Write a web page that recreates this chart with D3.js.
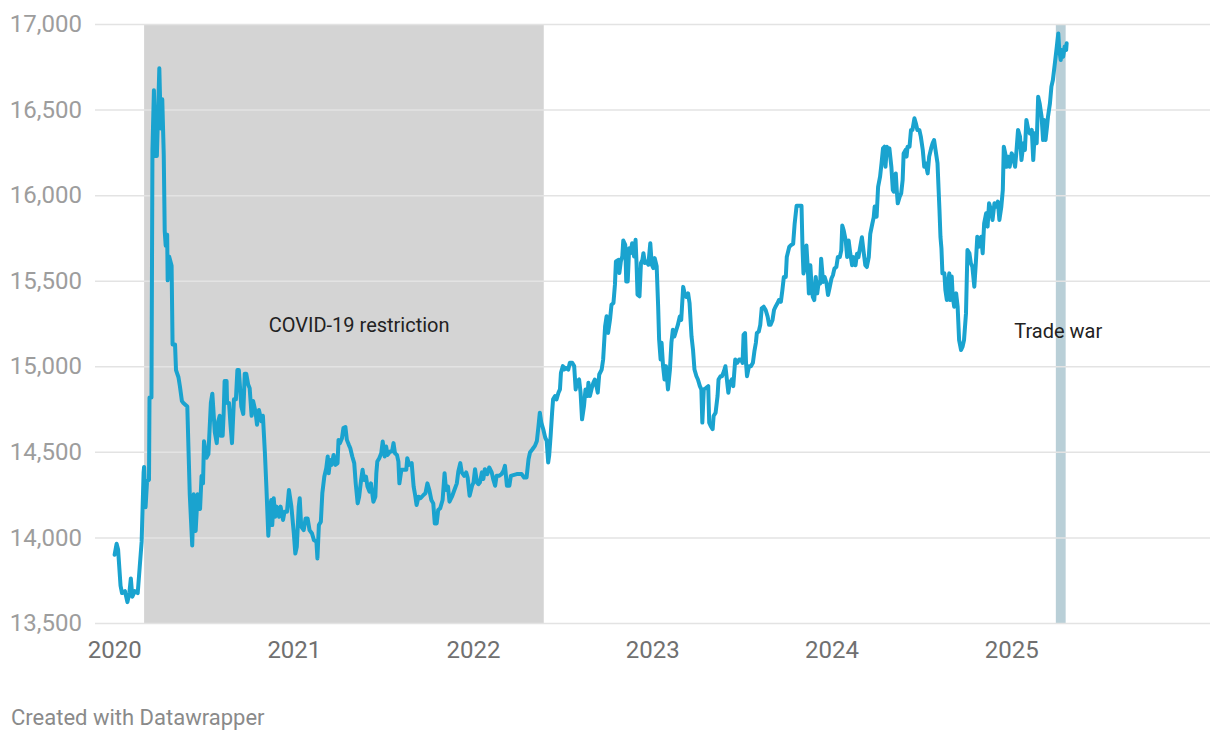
<!DOCTYPE html>
<html>
<head>
<meta charset="utf-8">
<script src="https://cdn.jsdelivr.net/npm/d3@7"></script>
<style>
  body { margin: 0; background: #fff; }
  svg { font-family: Roboto, "Noto Sans", sans-serif; }
</style>
</head>
<body>
<svg id="chart" width="1220" height="740"></svg>
<script>
// USD/IDR rate
const rates2020 = [
  ["2020-01-02",13899],["2020-01-06",13963],["2020-01-09",13930],["2020-01-14",13718],["2020-01-17",13675],["2020-01-23",13686],
  ["2020-01-28",13622],["2020-02-01",13675],["2020-02-04",13760],["2020-02-07",13654],["2020-02-12",13686],["2020-02-18",13675],
  ["2020-02-22",13825],["2020-02-26",13974],["2020-03-01",14380],["2020-03-02",14412],["2020-03-05",14177],["2020-03-08",14327],
  ["2020-03-12",14337],["2020-03-13",14818],["2020-03-17",14818],["2020-03-19",16261],["2020-03-22",16613],["2020-03-25",16229],
  ["2020-03-28",16229],["2020-04-02",16741],["2020-04-05",16389],["2020-04-08",16560],["2020-04-11",16239],["2020-04-13",15790],
  ["2020-04-15",15705],["2020-04-18",15769],["2020-04-19",15502],["2020-04-22",15641],["2020-04-27",15588],["2020-04-29",15128],
  ["2020-05-04",15128],["2020-05-06",14978],["2020-05-11",14936],["2020-05-14",14882],["2020-05-18",14797],["2020-05-21",14786],
  ["2020-05-29",14765],["2020-06-03",14252],["2020-06-08",13953],["2020-06-11",14252],["2020-06-15",14038],["2020-06-19",14252],
  ["2020-06-24",14166],["2020-06-27",14359],["2020-06-30",14316],["2020-07-02",14562],["2020-07-07",14466],["2020-07-11",14487],
  ["2020-07-16",14786],["2020-07-19",14840],["2020-07-24",14615],["2020-07-28",14551],["2020-07-31",14679],["2020-08-03",14711],
  ["2020-08-05",14594],["2020-08-09",14594],["2020-08-11",14722],["2020-08-13",14914],["2020-08-17",14914],["2020-08-18",14786],
  ["2020-08-22",14786],["2020-08-25",14658],["2020-08-28",14551],["2020-09-01",14807],["2020-09-05",14807],["2020-09-08",14978],
  ["2020-09-11",14978],["2020-09-16",14765],["2020-09-20",14722],["2020-09-23",14957],["2020-09-26",14957],["2020-09-30",14893],
  ["2020-10-03",14872],["2020-10-07",14711],["2020-10-10",14797],["2020-10-15",14733],["2020-10-18",14658],["2020-10-22",14744],
  ["2020-10-27",14679],["2020-10-30",14711],["2020-11-03",14497],["2020-11-06",14300],["2020-11-10",14010],["2020-11-13",14160],
  ["2020-11-16",14219],["2020-11-18",14072],["2020-11-21",14229],["2020-11-24",14121],["2020-11-27",14180],["2020-12-02",14121],
  ["2020-12-05",14180],["2020-12-10",14102],["2020-12-13",14150],["2020-12-18",14150],["2020-12-22",14277],["2020-12-27",14180]
]
const rates2021 = [
  ["2021-01-01",14023],["2021-01-04",13906],["2021-01-07",13945],["2021-01-11",14180],["2021-01-13",14229],["2021-01-16",14063],
  ["2021-01-21",14043],["2021-01-25",14111],["2021-01-29",14111],["2021-02-02",14043],["2021-02-07",14023],["2021-02-11",13984],
  ["2021-02-16",13975],["2021-02-18",13877],["2021-02-21",14072],["2021-02-25",14092],["2021-02-28",14258],["2021-03-04",14355],
  ["2021-03-08",14404],["2021-03-11",14473],["2021-03-13",14375],["2021-03-16",14453],["2021-03-19",14424],["2021-03-23",14482],
  ["2021-03-27",14424],["2021-03-31",14434],["2021-04-02",14570],["2021-04-05",14551],["2021-04-09",14580],["2021-04-12",14639],
  ["2021-04-16",14645],["2021-04-19",14570],["2021-04-23",14541],["2021-04-26",14521],["2021-04-30",14473],["2021-05-04",14434],
  ["2021-05-07",14316],["2021-05-11",14199],["2021-05-14",14238],["2021-05-18",14336],["2021-05-21",14395],["2021-05-24",14336],
  ["2021-05-28",14355],["2021-05-31",14297],["2021-06-04",14268],["2021-06-07",14316],["2021-06-12",14209],["2021-06-16",14238],
  ["2021-06-18",14375],["2021-06-20",14443],["2021-06-24",14463],["2021-06-28",14492],["2021-07-01",14561],["2021-07-05",14473],
  ["2021-07-08",14531],["2021-07-11",14482],["2021-07-16",14502],["2021-07-20",14502],["2021-07-23",14551],["2021-07-26",14492],
  ["2021-07-30",14482],["2021-08-02",14443],["2021-08-04",14316],["2021-08-08",14395],["2021-08-12",14395],["2021-08-18",14395],
  ["2021-08-20",14463],["2021-08-24",14424],["2021-08-29",14434],["2021-09-02",14297],["2021-09-05",14248],["2021-09-08",14189],
  ["2021-09-12",14238],["2021-09-16",14229],["2021-09-22",14248],["2021-09-26",14258],["2021-09-30",14316],["2021-10-04",14277],
  ["2021-10-08",14219],["2021-10-12",14199],["2021-10-15",14082],["2021-10-19",14082],["2021-10-22",14160],["2021-10-26",14170],
  ["2021-10-31",14219],["2021-11-04",14375],["2021-11-07",14277],["2021-11-11",14297],["2021-11-14",14209],["2021-11-19",14238],
  ["2021-11-24",14277],["2021-11-29",14316],["2021-12-02",14385],["2021-12-06",14434],["2021-12-09",14380],["2021-12-14",14360],
  ["2021-12-18",14380],["2021-12-21",14350],["2021-12-25",14243],["2021-12-30",14302]
]
const rates2022 = [
  ["2022-01-02",14321],["2022-01-05",14399],["2022-01-09",14321],["2022-01-12",14311],["2022-01-15",14321],["2022-01-19",14380],
  ["2022-01-22",14341],["2022-01-25",14399],["2022-01-30",14370],["2022-02-03",14409],["2022-02-08",14380],["2022-02-11",14341],
  ["2022-02-15",14302],["2022-02-18",14360],["2022-02-23",14360],["2022-02-28",14370],["2022-03-04",14389],["2022-03-07",14418],
  ["2022-03-11",14302],["2022-03-16",14302],["2022-03-19",14360],["2022-03-24",14364],["2022-03-31",14370],["2022-04-05",14370],
  ["2022-04-10",14370],["2022-04-15",14350],["2022-04-20",14350],["2022-04-24",14457],["2022-04-27",14496],["2022-05-02",14515],
  ["2022-05-07",14535],["2022-05-11",14564],["2022-05-14",14642],["2022-05-17",14729],["2022-05-20",14671],["2022-05-24",14632],
  ["2022-05-28",14583],["2022-05-31",14564],["2022-06-03",14438],["2022-06-05",14477],["2022-06-08",14593],["2022-06-11",14729],
  ["2022-06-13",14807],["2022-06-17",14826],["2022-06-20",14807],["2022-06-24",14846],["2022-06-27",14865],["2022-06-29",14962],
  ["2022-07-03",15001],["2022-07-06",14981],["2022-07-09",14991],["2022-07-14",14981],["2022-07-17",15020],["2022-07-22",15020],
  ["2022-07-26",15001],["2022-07-29",14865],["2022-08-01",14913],["2022-08-05",14923],["2022-08-08",14846],["2022-08-11",14690],
  ["2022-08-15",14768],["2022-08-18",14865],["2022-08-22",14826],["2022-08-24",14904],["2022-08-27",14826],["2022-08-31",14875],
  ["2022-09-03",14904],["2022-09-06",14923],["2022-09-10",14875],["2022-09-12",14846],["2022-09-15",14952],["2022-09-20",14981],
  ["2022-09-23",15040],["2022-09-27",15234],["2022-09-30",15292],["2022-10-03",15195],["2022-10-07",15273],["2022-10-10",15360],
  ["2022-10-14",15370],["2022-10-17",15477],["2022-10-19",15613],["2022-10-24",15622],["2022-10-26",15545],["2022-10-29",15613],
  ["2022-11-01",15642],["2022-11-03",15735],["2022-11-07",15710],["2022-11-09",15496],["2022-11-12",15496],["2022-11-15",15690],
  ["2022-11-18",15661],["2022-11-21",15719],["2022-11-25",15642],["2022-11-28",15739],["2022-11-30",15603],["2022-12-02",15418],
  ["2022-12-06",15409],["2022-12-09",15603],["2022-12-12",15622],["2022-12-14",15661],["2022-12-17",15603],["2022-12-21",15613],
  ["2022-12-24",15593],["2022-12-28",15719],["2022-12-31",15593]
]
const rates2023 = [
  ["2023-01-03",15574],["2023-01-06",15632],["2023-01-10",15584],["2023-01-13",15350],["2023-01-15",15156],["2023-01-18",15040],
  ["2023-01-20",15137],["2023-01-23",15001],["2023-01-26",14923],["2023-01-29",15001],["2023-02-02",14865],["2023-02-06",14980],
  ["2023-02-09",15137],["2023-02-12",15213],["2023-02-15",15174],["2023-02-19",15213],["2023-02-22",15240],["2023-02-26",15290],
  ["2023-03-01",15271],["2023-03-05",15464],["2023-03-08",15426],["2023-03-11",15406],["2023-03-15",15426],["2023-03-18",15368],
  ["2023-03-22",15174],["2023-03-25",15097],["2023-03-28",14981],["2023-04-01",14942],["2023-04-04",14923],["2023-04-08",14884],
  ["2023-04-11",14865],["2023-04-13",14671],["2023-04-16",14865],["2023-04-21",14874],["2023-04-25",14884],["2023-04-27",14671],
  ["2023-04-30",14652],["2023-05-04",14633],["2023-05-06",14710],["2023-05-10",14729],["2023-05-14",14826],["2023-05-16",14923],
  ["2023-05-20",14942],["2023-05-23",14942],["2023-05-27",14971],["2023-05-30",15000],["2023-06-02",14923],["2023-06-05",14845],
  ["2023-06-08",14904],["2023-06-12",14923],["2023-06-15",14884],["2023-06-19",15039],["2023-06-23",15020],["2023-06-27",15039],
  ["2023-07-01",15039],["2023-07-04",15020],["2023-07-06",15184],["2023-07-09",15194],["2023-07-11",15020],["2023-07-13",14942],
  ["2023-07-17",15000],["2023-07-21",15000],["2023-07-25",15020],["2023-07-28",15087],["2023-07-31",15136],["2023-08-02",15194],
  ["2023-08-06",15203],["2023-08-09",15242],["2023-08-12",15339],["2023-08-16",15348],["2023-08-20",15329],["2023-08-24",15290],
  ["2023-08-27",15242],["2023-08-30",15242],["2023-09-03",15271],["2023-09-06",15329],["2023-09-09",15348],["2023-09-13",15368],
  ["2023-09-16",15387],["2023-09-20",15377],["2023-09-23",15445],["2023-09-26",15522],["2023-09-30",15522],["2023-10-02",15638],
  ["2023-10-07",15697],["2023-10-10",15706],["2023-10-15",15716],["2023-10-18",15832],["2023-10-22",15938],["2023-10-25",15938],
  ["2023-10-28",15938],["2023-11-01",15938],["2023-11-03",15697],["2023-11-05",15542],["2023-11-08",15580],["2023-11-11",15706],
  ["2023-11-14",15561],["2023-11-16",15426],["2023-11-19",15590],["2023-11-22",15445],["2023-11-24",15406],["2023-11-27",15387],
  ["2023-11-30",15522],["2023-12-03",15426],["2023-12-06",15493],["2023-12-09",15484],["2023-12-11",15629],["2023-12-15",15493],
  ["2023-12-18",15522],["2023-12-22",15484],["2023-12-25",15416],["2023-12-28",15455]
]
const rates2024 = [
  ["2024-01-01",15513],["2024-01-04",15532],["2024-01-07",15571],["2024-01-11",15580],["2024-01-14",15638],["2024-01-18",15638],
  ["2024-01-21",15677],["2024-01-23",15822],["2024-01-26",15793],["2024-01-30",15735],["2024-02-02",15638],["2024-02-05",15735],
  ["2024-02-08",15667],["2024-02-12",15590],["2024-02-15",15638],["2024-02-19",15590],["2024-02-22",15658],["2024-02-25",15638],
  ["2024-02-29",15706],["2024-03-03",15754],["2024-03-07",15658],["2024-03-10",15590],["2024-03-13",15580],["2024-03-17",15638],
  ["2024-03-20",15774],["2024-03-24",15830],["2024-03-27",15870],["2024-03-29",15933],["2024-04-02",15874],["2024-04-05",16049],
  ["2024-04-09",16108],["2024-04-12",16186],["2024-04-15",16273],["2024-04-18",16283],["2024-04-20",16166],["2024-04-23",16283],
  ["2024-04-25",16264],["2024-04-28",16273],["2024-05-02",16166],["2024-05-05",16030],["2024-05-07",16020],["2024-05-11",16127],
  ["2024-05-13",16030],["2024-05-15",15952],["2024-05-19",15991],["2024-05-22",16010],["2024-05-25",16088],["2024-05-27",16244],
  ["2024-05-31",16264],["2024-06-02",16225],["2024-06-04",16283],["2024-06-08",16283],["2024-06-11",16381],["2024-06-14",16381],
  ["2024-06-18",16449],["2024-06-21",16419],["2024-06-24",16381],["2024-06-28",16381],["2024-07-01",16342],["2024-07-05",16264],
  ["2024-07-08",16166],["2024-07-11",16186],["2024-07-15",16127],["2024-07-18",16225],["2024-07-22",16273],["2024-07-25",16303],
  ["2024-07-28",16322],["2024-08-01",16244],["2024-08-04",16186],["2024-08-08",15913],["2024-08-10",15757],["2024-08-12",15689],
  ["2024-08-14",15543],["2024-08-18",15543],["2024-08-20",15446],["2024-08-23",15387],["2024-08-25",15485],["2024-08-28",15543],
  ["2024-08-30",15387],["2024-09-02",15524],["2024-09-04",15407],["2024-09-07",15348],["2024-09-11",15426],["2024-09-14",15348],
  ["2024-09-17",15153],["2024-09-21",15095],["2024-09-24",15114],["2024-09-27",15153],["2024-10-01",15309],["2024-10-04",15679],
  ["2024-10-08",15660],["2024-10-11",15601],["2024-10-14",15582],["2024-10-18",15465],["2024-10-21",15601],["2024-10-24",15757],
  ["2024-10-28",15699],["2024-11-01",15757],["2024-11-04",15660],["2024-11-07",15835],["2024-11-11",15894],["2024-11-14",15816],
  ["2024-11-17",15952],["2024-11-21",15913],["2024-11-24",15855],["2024-11-28",15952],["2024-12-02",15933],["2024-12-05",15962],
  ["2024-12-08",15855],["2024-12-12",15933],["2024-12-15",16030],["2024-12-17",16283],["2024-12-20",16244],["2024-12-23",16166],
  ["2024-12-26",16225],["2024-12-29",16166]
]
const rates2025 = [
  ["2025-01-02",16244],["2025-01-05",16225],["2025-01-09",16166],["2025-01-12",16264],["2025-01-15",16381],["2025-01-19",16342],
  ["2025-01-22",16205],["2025-01-26",16303],["2025-01-29",16264],["2025-02-01",16439],["2025-02-05",16381],["2025-02-08",16361],
  ["2025-02-12",16381],["2025-02-15",16205],["2025-02-18",16361],["2025-02-22",16303],["2025-02-25",16575],["2025-02-28",16536],
  ["2025-03-04",16458],["2025-03-07",16322],["2025-03-09",16439],["2025-03-12",16322],["2025-03-15",16400],["2025-03-17",16458],
  ["2025-03-21",16536],["2025-03-24",16634],["2025-03-27",16673],["2025-03-31",16770],["2025-04-04",16868],["2025-04-07",16945],
  ["2025-04-09",16848],["2025-04-12",16790],["2025-04-14",16848],["2025-04-17",16809],["2025-04-20",16868],["2025-04-23",16848],
  ["2025-04-24",16887]
]

const yTicks = [13500, 14000, 14500, 15000, 15500, 16000, 16500, 17000]
const xTickYears = [2020, 2021, 2022, 2023, 2024, 2025]

const periods = [
  { name: "COVID-19 restriction", start: "2020-03-02", end: "2022-05-25", fill: "#d4d4d4" },
  { name: "Trade war", start: "2025-04-02", end: "2025-04-22", fill: "#b9cfd7" }
]
// where the period labels sit (date, rate at text baseline)
const periodLabels = [
  { text: "COVID-19 restriction", date: "2021-05-14", rate: 15200 },
  { text: "Trade war", date: "2025-04-07", rate: 15168 }
]

const parse = d3.timeParse("%Y-%m-%d")
const series = [].concat(rates2020, rates2021, rates2022, rates2023, rates2024, rates2025)
  .map(d => ({ date: parse(d[0]), value: d[1] }))

const svg = d3.select("#chart")
const margin = { top: 24, right: 10, bottom: 117, left: 95 }
const width = 1220, height = 740

const x = d3.scaleTime()
  .domain([new Date(2019, 10, 23), new Date(2026, 1, 10)])
  .range([margin.left, width - margin.right])
const y = d3.scaleLinear()
  .domain([13500, 17000])
  .range([height - margin.bottom, margin.top])

// shaded periods
svg.append("g").selectAll("rect")
  .data(periods)
  .join("rect")
  .attr("x", d => x(parse(d.start)))
  .attr("width", d => x(parse(d.end)) - x(parse(d.start)))
  .attr("y", y(17000))
  .attr("height", y(13500) - y(17000))
  .attr("fill", d => d.fill)

// grid lines + y labels
let yAxis = svg.append("g")
  .attr("transform", "translate(" + margin.left + ",0)")
  .call(d3.axisLeft(y).tickValues(yTicks).tickSize(-(width - margin.left - margin.right))
    .tickFormat(d3.format(",")).tickPadding(13))
yAxis.select(".domain").remove()
yAxis.selectAll(".tick line").attr("stroke", "#e3e3e3").attr("stroke-width", 1.5)
yAxis.selectAll(".tick text")
  .attr("fill", "#9d9d9d")
  .style("font-size", "24px")
  .style("font-family", "Roboto")

// x labels
let xAxis = svg.append("g")
  .attr("transform", "translate(0," + (height - margin.bottom) + ")")
  .call(d3.axisBottom(x).tickValues(xTickYears.map(yr => new Date(yr, 0, 1)))
    .tickFormat(d3.timeFormat("%Y")).tickSize(0).tickPadding(18))
xAxis.select(".domain").remove()
xAxis.selectAll(".tick text")
  .attr("fill", "#707070")
  .style("font-size", "24px")
  .style("font-family", "Roboto")

// rate line
const line = d3.line()
  .x(d => x(d.date))
  .y(d => y(d.value))

svg.append("path")
  .datum(series)
  .attr("fill", "none")
  .attr("stroke", "#1aa3cf")
  .attr("stroke-width", 4)
  .attr("stroke-linejoin", "round")
  .attr("stroke-linecap", "round")
  .attr("d", line)

// period labels
svg.append("g").selectAll("text")
  .data(periodLabels)
  .join("text")
  .attr("x", d => x(parse(d.date)))
  .attr("y", d => y(d.rate))
  .attr("text-anchor", "middle")
  .attr("fill", "#222")
  .style("font-size", "20px")
  .style("font-family", "Roboto")
  .text(d => d.text)

svg.append("text")
  .attr("x", 11)
  .attr("y", 725)
  .attr("fill", "#8a8a8a")
  .style("font-size", "22px")
  .style("font-family", "Roboto")
  .text("Created with Datawrapper")
</script>
</body>
</html>
